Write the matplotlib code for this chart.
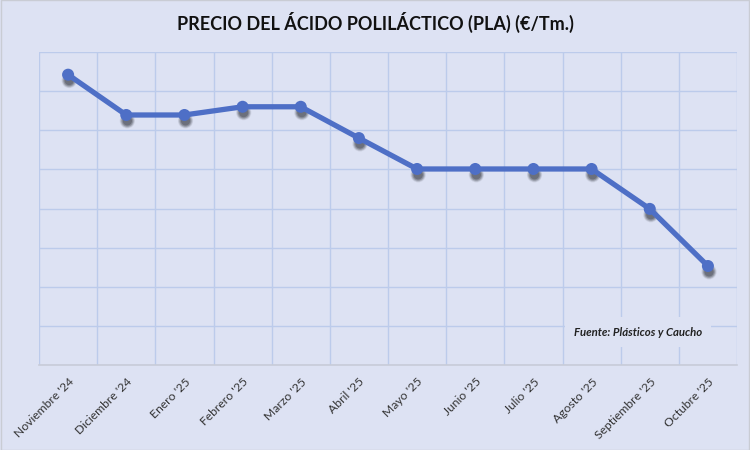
import matplotlib.pyplot as plt
import matplotlib.transforms as mtransforms

meses = ["Noviembre '24", "Diciembre '24", "Enero '25", "Febrero '25", "Marzo '25",
         "Abril '25", "Mayo '25", "Junio '25", "Julio '25", "Agosto '25",
         "Septiembre '25", "Octubre '25"]
precio = [7.42, 6.39, 6.39, 6.60, 6.60, 5.80, 5.01, 5.01, 5.01, 5.01, 3.99, 2.53]

bg = '#dde2f3'
line_col = '#4e6fc6'
grid_col = '#bccbeb'
fuente = 'Lato'

fig = plt.figure(figsize=(7.5, 4.5), dpi=100, facecolor=bg)
ax = fig.add_axes([39/750, 1 - 365/450, (737-39)/750, (365-52)/450])
ax.set_facecolor(bg)

x = list(range(len(meses)))
ax.plot(x, precio, color=line_col, linewidth=3.8, zorder=3, solid_capstyle='round')
# soft shadow under the markers
for s, a in [(120, 0.10), (95, 0.18), (70, 0.28), (45, 0.35)]:
    shadow = mtransforms.offset_copy(ax.transData, fig=fig, x=0.8, y=-4.2, units='points')
    ax.scatter(x, precio, s=s, color='#33363f', alpha=a, transform=shadow, zorder=2,
               edgecolors='none')
ax.scatter(x, precio, s=75, color=line_col, zorder=4, edgecolors='none')

ax.set_xlim(-0.5, len(meses) - 0.5)
ax.set_ylim(0, 8)
ax.set_yticks(range(0, 9))
ax.set_yticklabels([])
ax.set_xticks([i - 0.5 for i in range(len(meses) + 1)], minor=True)
ax.set_xticks(x)
ax.set_xticklabels(meses, rotation=45, ha='right', rotation_mode='anchor',
                   fontsize=8.7, color='#333333', family=fuente)
ax.tick_params(axis='both', which='both', length=0)
ax.tick_params(axis='x', pad=8)
ax.grid(True, axis='y', color=grid_col, linewidth=1)
ax.grid(True, axis='x', which='minor', color=grid_col, linewidth=1)
ax.grid(False, axis='x', which='major')
for side in ['top', 'right', 'left']:
    ax.spines[side].set_visible(False)
ax.spines['bottom'].set_color('#c8ccd8')
ax.spines['bottom'].set_linewidth(1.2)
ax.set_axisbelow(True)

fig.text(0.5, 1 - 22/450, 'PRECIO DEL ÁCIDO POLILÁCTICO (PLA) (€/Tm.)', ha='center', va='center',
         fontsize=13, fontweight='bold', family=fuente, color='#111111')

ax.text(638/750, 1 - 332/450, 'Fuente: Plásticos y Caucho', transform=fig.transFigure,
        ha='center', va='center', fontsize=8.2, fontweight='bold', style='italic',
        family=fuente, color='#222222', zorder=5,
        bbox=dict(boxstyle='square,pad=0.8', facecolor=bg, edgecolor='none'))

# thin border around the figure
fig.patches.append(plt.Rectangle((0.001, 0.001), 0.998, 0.998, transform=fig.transFigure,
                                 fill=False, edgecolor='#c9ccd4', linewidth=1))

fig.savefig('out.png', dpi=100, facecolor=bg)
